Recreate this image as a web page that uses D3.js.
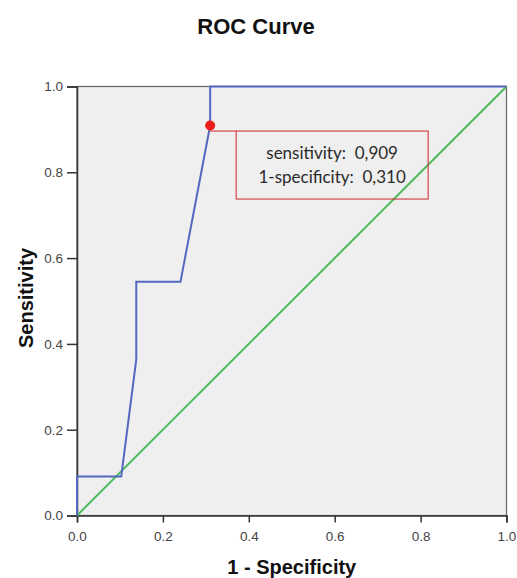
<!DOCTYPE html>
<html>
<head>
<meta charset="utf-8">
<script src="https://cdn.jsdelivr.net/npm/d3@7"></script>
<style>
  body { margin: 0; background: #fff; }
</style>
</head>
<body>
<div id="chart"></div>
<script>
// ROC curve points (1 - specificity, sensitivity)
const fpr = [0, 0, 0.103, 0.138, 0.138, 0.241, 0.310, 0.310, 1];
const tpr = [0, 0.091, 0.091, 0.364, 0.545, 0.545, 0.909, 1, 1];
const refLine = [0, 1];
const ticks = [0, 0.2, 0.4, 0.6, 0.8, 1.0];
const cutoff = { fpr: 0.310, tpr: 0.909 };
const cutoffLabels = ['sensitivity:  0,909', '1-specificity:  0,310'];

const W = 517, H = 578;
const margin = { top: 86.5, right: 10.5, bottom: 62.5, left: 77 };

const svg = d3.select('#chart').append('svg')
  .attr('width', W)
  .attr('height', H);

const x = d3.scaleLinear().domain([0, 1]).range([margin.left, W - margin.right]);
const y = d3.scaleLinear().domain([0, 1]).range([H - margin.bottom, margin.top]);

// plot background
svg.append('rect')
  .attr('x', x(0)).attr('y', y(1))
  .attr('width', x(1) - x(0)).attr('height', y(0) - y(1))
  .attr('fill', '#efefef')
  .attr('stroke', '#666')
  .attr('stroke-width', 1.2);

// axes
svg.append('g')
  .attr('transform', `translate(0,${y(0)})`)
  .call(d3.axisBottom(x).tickValues(ticks).tickFormat(d3.format('.1f')).tickSize(7).tickPadding(9))
  .call(g => g.selectAll('.domain').attr('stroke', '#333').attr('stroke-width', 1.5))
  .call(g => g.selectAll('.tick line').attr('stroke', '#333').attr('stroke-width', 1.5))
  .call(g => g.selectAll('text').attr('fill', '#444').attr('font-size', 13.5)
    .attr('font-family', '"Liberation Sans", Arial, sans-serif'));

svg.append('g')
  .attr('transform', `translate(${x(0)},0)`)
  .call(d3.axisLeft(y).tickValues(ticks).tickFormat(d3.format('.1f')).tickSize(10).tickPadding(4))
  .call(g => g.selectAll('.domain').attr('stroke', '#333').attr('stroke-width', 1.5))
  .call(g => g.selectAll('.tick line').attr('stroke', '#333').attr('stroke-width', 1.5))
  .call(g => g.selectAll('text').attr('fill', '#444').attr('font-size', 13.5)
    .attr('font-family', '"Liberation Sans", Arial, sans-serif'));

// reference diagonal
svg.append('line')
  .attr('x1', x(refLine[0])).attr('y1', y(refLine[0]))
  .attr('x2', x(refLine[1])).attr('y2', y(refLine[1]))
  .attr('stroke', '#4cbb5c')
  .attr('stroke-width', 2);

// ROC curve
const line = d3.line()
  .x(i => x(fpr[i]))
  .y(i => y(tpr[i]));

svg.append('path')
  .datum(d3.range(fpr.length))
  .attr('d', line)
  .attr('fill', 'none')
  .attr('stroke', '#5568c0')
  .attr('stroke-width', 2);

// cutoff annotation
const cx = x(cutoff.fpr), cy = y(cutoff.tpr);
const boxX = cx + 26, boxY = cy + 5.5, boxW = 192, boxH = 68;

svg.append('line')
  .attr('x1', cx).attr('y1', boxY)
  .attr('x2', boxX).attr('y2', boxY)
  .attr('stroke', '#d0242a')
  .attr('stroke-width', 1);

svg.append('rect')
  .attr('x', boxX).attr('y', boxY)
  .attr('width', boxW).attr('height', boxH)
  .attr('fill', 'none')
  .attr('stroke', '#d0242a')
  .attr('stroke-width', 1);

svg.append('circle')
  .attr('cx', cx).attr('cy', cy)
  .attr('r', 5)
  .attr('fill', '#ee1c1c');

svg.append('g')
  .selectAll('text')
  .data(cutoffLabels)
  .join('text')
  .attr('x', boxX + boxW / 2)
  .attr('y', (d, i) => boxY + 28 + i * 24)
  .attr('text-anchor', 'middle')
  .attr('font-family', 'Lato, "Open Sans", sans-serif')
  .attr('font-size', 17)
  .attr('fill', '#2a2a2a')
  .style('white-space', 'pre')
  .text(d => d);

// titles
svg.append('text')
  .attr('x', 256)
  .attr('y', 34)
  .attr('text-anchor', 'middle')
  .attr('font-family', '"Liberation Sans", Arial, sans-serif')
  .attr('font-weight', 'bold')
  .attr('font-size', 22)
  .attr('fill', '#111')
  .text('ROC Curve');

svg.append('text')
  .attr('x', (x(0) + x(1)) / 2)
  .attr('y', 574)
  .attr('text-anchor', 'middle')
  .attr('font-family', '"Liberation Sans", Arial, sans-serif')
  .attr('font-weight', 'bold')
  .attr('font-size', 20)
  .attr('fill', '#111')
  .text('1 - Specificity');

svg.append('text')
  .attr('transform', `translate(33,298) rotate(-90)`)
  .attr('text-anchor', 'middle')
  .attr('font-family', '"Liberation Sans", Arial, sans-serif')
  .attr('font-weight', 'bold')
  .attr('font-size', 20)
  .attr('fill', '#111')
  .text('Sensitivity');
</script>
</body>
</html>
